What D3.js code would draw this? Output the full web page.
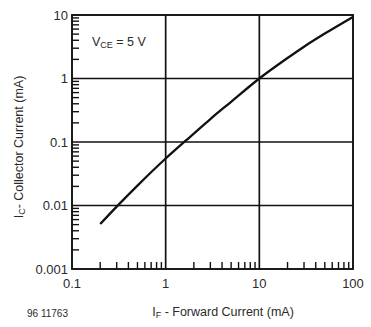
<!DOCTYPE html>
<html><head><meta charset="utf-8">
<script src="https://cdn.jsdelivr.net/npm/d3@7"></script>
<style>
html,body{margin:0;padding:0;background:#fff;}
svg text{font-family:"Liberation Sans",Arial,sans-serif;fill:#2a2a2a;}
</style></head>
<body>
<svg id="c" width="371" height="327"></svg>
<script>
// Data
const forwardCurrent = [0.2, 0.3, 0.5, 1, 2, 3, 5, 10, 20, 30, 50, 100];                       // I_F (mA)
const collectorCurrent = [0.0051, 0.0096, 0.0206, 0.055, 0.136, 0.23, 0.43, 1.0, 2.1, 3.17, 5.1, 9.35]; // I_C (mA)
const xTickLabels = ["0.1", "1", "10", "100"];
const yTickLabels = ["0.001", "0.01", "0.1", "1", "10"];
const xMajor = [0.1, 1, 10, 100];
const yMajor = [0.001, 0.01, 0.1, 1, 10];

const svg = d3.select("#c");
const L = 72, R = 353, T = 15, B = 269;
const x = d3.scaleLog().domain([0.1, 100]).range([L, R]);
const y = d3.scaleLog().domain([0.001, 10]).range([B, T]);

const minors = (lo, hi) => {
  const out = [];
  for (let d = lo; d < hi; d *= 10) for (let k = 2; k <= 9; k++) out.push(d * k);
  return out;
};

// grid
const g = svg.append("g").attr("stroke", "#111").attr("stroke-width", 1.7);
g.selectAll(".vx").data(xMajor.slice(1, -1)).enter().append("line")
  .attr("x1", d => x(d)).attr("x2", d => x(d)).attr("y1", T).attr("y2", B);
g.selectAll(".hy").data(yMajor.slice(1, -1)).enter().append("line")
  .attr("y1", d => y(d)).attr("y2", d => y(d)).attr("x1", L).attr("x2", R);

// minor ticks (inside)
const tl = 7;
g.selectAll(".mx").data(minors(0.1, 100)).enter().append("line")
  .attr("stroke-width", 1.4)
  .attr("x1", d => x(d)).attr("x2", d => x(d)).attr("y1", B).attr("y2", B - tl);
g.selectAll(".my").data(minors(0.001, 10)).enter().append("line")
  .attr("stroke-width", 1.4)
  .attr("y1", d => y(d)).attr("y2", d => y(d)).attr("x1", L).attr("x2", L + tl);

// frame
svg.append("rect").attr("x", L).attr("y", T).attr("width", R - L).attr("height", B - T)
  .attr("fill", "none").attr("stroke", "#111").attr("stroke-width", 1.9);

// curve
const pts = forwardCurrent.map((f, i) => [f, collectorCurrent[i]]);
svg.append("path").datum(pts)
  .attr("fill", "none").attr("stroke", "#111").attr("stroke-width", 2.3)
  .attr("d", d3.line().x(d => x(d[0])).y(d => y(d[1])).curve(d3.curveMonotoneX));

// tick labels
svg.selectAll(".xl").data(xMajor).enter().append("text")
  .attr("x", d => x(d)).attr("y", 288).attr("text-anchor", "middle")
  .attr("font-size", 13).text((d, i) => xTickLabels[i]);
svg.selectAll(".yl").data(yMajor).enter().append("text")
  .attr("x", 68).attr("y", d => y(d) + 4.5).attr("text-anchor", "end")
  .attr("font-size", 13).text((d, i) => yTickLabels[i]);

// axis titles
const xt = svg.append("text").attr("x", 223).attr("y", 316).attr("text-anchor", "middle").attr("font-size", 12.5);
xt.append("tspan").text("I");
xt.append("tspan").attr("font-size", 9).attr("dy", 2).text("F");
xt.append("tspan").attr("dy", -2).text(" - Forward Current (mA)");

const yt = svg.append("text").attr("transform", "translate(23,147) rotate(-90)")
  .attr("text-anchor", "middle").attr("font-size", 12.5);
yt.append("tspan").text("I");
yt.append("tspan").attr("font-size", 9).attr("dy", 2).text("C");
yt.append("tspan").attr("dy", -2).text("- Collector Current (mA)");

// annotation
const va = svg.append("text").attr("x", 92).attr("y", 46).attr("font-size", 12.5);
va.append("tspan").text("V");
va.append("tspan").attr("font-size", 9).attr("dy", 2).text("CE");
va.append("tspan").attr("dy", -2).text(" = 5 V");

svg.append("text").attr("x", 27).attr("y", 317).attr("font-size", 10).text("96 11763");
</script>
</body></html>
